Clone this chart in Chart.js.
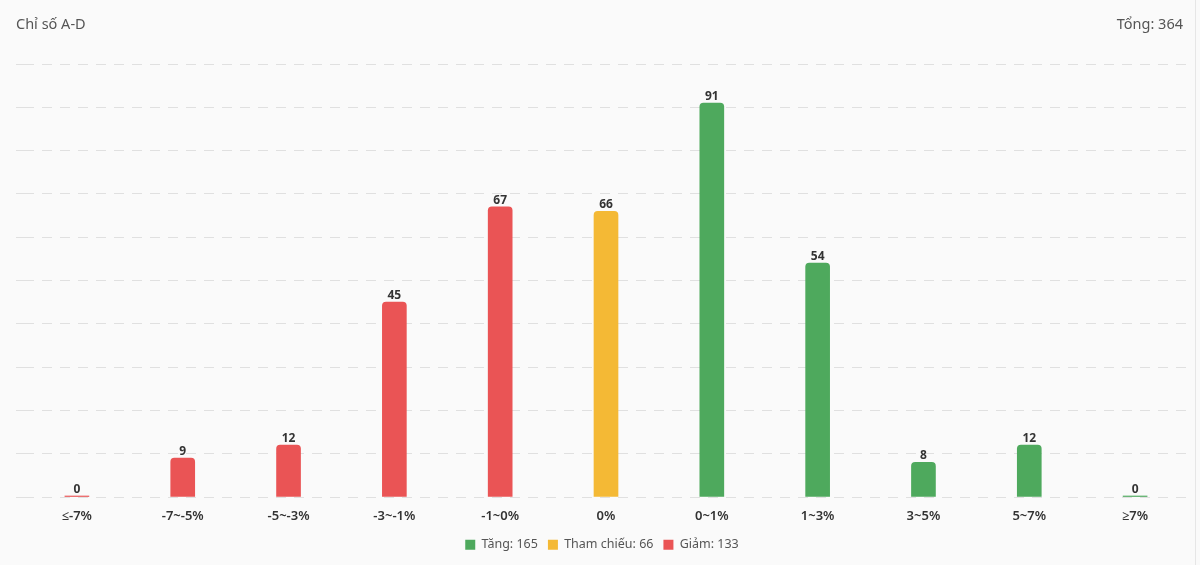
<!DOCTYPE html>
<html>
<head>
<meta charset="utf-8">
<script src="https://cdn.jsdelivr.net/npm/chart.js@4"></script>
<style>
  html, body { margin: 0; padding: 0; background: #fafafa; width: 1200px; height: 565px; overflow: hidden; font-family: "Noto Sans", sans-serif; }
  #wrap { position: absolute; left: 0; top: 0; width: 1195px; height: 565px; border-right: 1px solid #e6e6e6; }
  #title { position: absolute; left: 16px; top: 13px; font-size: 14.5px; color: #555; }
  #total { position: absolute; right: 12px; top: 13px; font-size: 14.5px; color: #555; }
  #c { position: absolute; left: 0; top: 0; }
</style>
</head>
<body>
<div id="wrap">
  <canvas id="c" width="1200" height="565"></canvas>
  <div id="title">Chỉ số A-D</div>
  <div id="total"></div>
</div>
<script>
const categories = ["≤-7%", "-7~-5%", "-5~-3%", "-3~-1%", "-1~0%", "0%", "0~1%", "1~3%", "3~5%", "5~7%", "≥7%"];
const upValues   = [null, null, null, null, null, null, 91, 54, 8, 12, 0];
const refValues  = [null, null, null, null, null, 66, null, null, null, null, null];
const downValues = [0, 9, 12, 45, 67, null, null, null, null, null, null];
const seriesNames = ["Tăng", "Tham chiếu", "Giảm"];
const seriesColors = ["#4ea95d", "#f4b935", "#ea5455"];

const sum = a => a.reduce((s, v) => s + (v || 0), 0);
const totals = [sum(upValues), sum(refValues), sum(downValues)];
document.getElementById('total').textContent = 'Tổng: ' + (totals[0] + totals[1] + totals[2]);

const valueLabels = {
  id: 'valueLabels',
  afterDatasetsDraw(chart) {
    const ctx = chart.ctx;
    ctx.save();
    ctx.font = 'bold 12px "Noto Sans"';
    ctx.fillStyle = '#333';
    ctx.textAlign = 'center';
    ctx.textBaseline = 'bottom';
    chart.data.datasets.forEach((ds, i) => {
      const meta = chart.getDatasetMeta(i);
      meta.data.forEach((bar, j) => {
        const v = ds.data[j];
        if (v === null || v === undefined) return;
        ctx.fillText(String(v), bar.x, bar.y - 0.5);
      });
    });
    ctx.restore();
  }
};

new Chart(document.getElementById('c'), {
  type: 'bar',
  data: {
    labels: categories,
    datasets: [
      { label: seriesNames[0] + ': ' + totals[0], data: upValues, backgroundColor: seriesColors[0] },
      { label: seriesNames[1] + ': ' + totals[1], data: refValues, backgroundColor: seriesColors[1] },
      { label: seriesNames[2] + ': ' + totals[2], data: downValues, backgroundColor: seriesColors[2] }
    ]
  },
  options: {
    responsive: false,
    animation: false,
    layout: { padding: { top: 64, left: 16, right: 12, bottom: 4 } },
    datasets: { bar: { barThickness: 24, borderRadius: 4, minBarLength: 1 } },
    plugins: {
      legend: {
        position: 'bottom',
        labels: { boxWidth: 10, boxHeight: 10, color: '#555', font: { family: 'Noto Sans', size: 12.5 }, padding: 10 }
      },
      tooltip: { enabled: false }
    },
    scales: {
      x: {
        stacked: true,
        grid: { display: false, drawTicks: false },
        border: { display: false },
        ticks: { color: '#333', font: { family: 'Noto Sans', size: 13, weight: '600' }, padding: 11 },
        afterFit: s => { s.height = 31.5; }
      },
      y: {
        stacked: true,
        min: 0, max: 100,
        ticks: { display: false, stepSize: 10 },
        border: { display: false, dash: [10, 8] },
        grid: { color: '#e0e0e0', tickLength: 8, drawTicks: true, lineWidth: 1, tickBorderDash: [10, 8] }
      }
    }
  },
  plugins: [valueLabels]
});
</script>
</body>
</html>
